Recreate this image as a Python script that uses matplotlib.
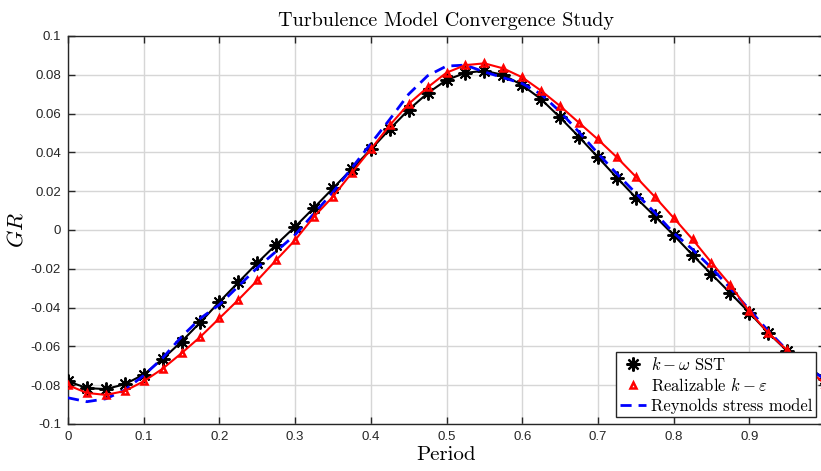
import matplotlib
matplotlib.use('Agg')
import matplotlib.pyplot as plt
from matplotlib.lines import Line2D
from matplotlib.ticker import FuncFormatter
import numpy as np

period = np.arange(41) * 0.025

gr_sst = [-0.078, -0.0815, -0.082, -0.0795, -0.0745, -0.0665, -0.0575, -0.0475,
          -0.037, -0.027, -0.017, -0.0075, 0.0017, 0.0115, 0.0215, 0.0315,
          0.0415, 0.052, 0.062, 0.0705, 0.0773, 0.081, 0.0821, 0.0799,
          0.0747, 0.0674, 0.058, 0.048, 0.0375, 0.027, 0.0167, 0.0072,
          -0.0026, -0.0129, -0.0227, -0.0326, -0.0426, -0.053, -0.0624, -0.070,
          -0.0768]

gr_rke = [-0.080, -0.084, -0.085, -0.083, -0.078, -0.0715, -0.0635, -0.055,
          -0.0455, -0.036, -0.026, -0.0155, -0.0052, 0.0069, 0.0172, 0.0295,
          0.0416, 0.054, 0.065, 0.0735, 0.0811, 0.085, 0.0859, 0.0833,
          0.0787, 0.0718, 0.0639, 0.0553, 0.0467, 0.0375, 0.0275, 0.0172,
          0.0063, -0.0048, -0.0168, -0.0284, -0.042, -0.053, -0.062, -0.071,
          -0.0794]

gr_rsm = [-0.0865, -0.0885, -0.087, -0.0825, -0.075, -0.066, -0.055, -0.0455,
          -0.0385, -0.029, -0.0195, -0.011, -0.0025, 0.0085, 0.0195, 0.032,
          0.0445, 0.057, 0.070, 0.0795, 0.0845, 0.085, 0.0815, 0.0785,
          0.0755, 0.070, 0.061, 0.0505, 0.0395, 0.029, 0.019, 0.009,
          -0.0015, -0.010, -0.0195, -0.030, -0.041, -0.052, -0.062, -0.0705,
          -0.077]

labels = [r'$k-\omega$ SST', r'Realizable $k-\varepsilon$', 'Reynolds stress model']

plt.rcParams['mathtext.fontset'] = 'cm'
plt.rcParams['axes.unicode_minus'] = False
plt.rcParams['font.family'] = ['Liberation Sans', 'DejaVu Sans']

fig = plt.figure(figsize=(8.21, 4.71), dpi=100)
ax = fig.add_axes([68 / 821, 1 - 424 / 471, 757 / 821, 388 / 471])

ax.plot(period, gr_sst, color='black', lw=1.5, marker=(8, 2, 0), ms=10, mew=1.4, zorder=3)
ax.plot(period, gr_rsm, color='#0000ff', lw=2, ls=(0, (4, 2.5)), zorder=4)
ax.plot(period, gr_rke, color='#ff0000', lw=1.5, marker='^', ms=5, mfc='none', mew=1.8, zorder=5)

ax.set_xlim(0, 1)
ax.set_ylim(-0.1, 0.1)
ax.set_xticks(np.arange(0, 1.01, 0.1))
ax.set_yticks(np.arange(-0.1, 0.101, 0.02))
fmt = FuncFormatter(lambda v, p: '%g' % round(v, 3))
ax.xaxis.set_major_formatter(fmt)
ax.yaxis.set_major_formatter(fmt)
ax.tick_params(direction='in', length=5, width=1, top=True, right=True,
               labelsize=9.5, colors='#262626', pad=5)
ax.grid(True, color='#d6d6d6', lw=1)
ax.set_axisbelow(True)
for s in ax.spines.values():
    s.set_color('#262626')
    s.set_linewidth(1)

ax.set_title('Turbulence Model Convergence Study', fontfamily='cmr10', fontsize=14.5, pad=7)
ax.set_xlabel('Period', fontfamily='cmr10', fontsize=15, labelpad=2)
ax.set_ylabel('$GR$', fontsize=16)
ax.yaxis.set_label_coords(-0.053, 0.5)

handles = [
    Line2D([], [], color='black', ls='none', marker=(8, 2, 0), ms=10, mew=1.6),
    Line2D([], [], color='#ff0000', ls='none', marker='^', ms=5, mfc='none', mew=1.8),
    Line2D([], [], color='#0000ff', lw=2, ls=(0, (4, 2.5))),
]
leg = ax.legend(handles, labels, loc='lower right', bbox_to_anchor=(0.988, 0.018),
                borderaxespad=0, fancybox=False, framealpha=1, edgecolor='#262626',
                prop={'family': 'cmr10', 'size': 12}, handlelength=1.6,
                handletextpad=0.3, labelspacing=0.25, borderpad=0.2)
leg.get_frame().set_linewidth(1)
leg.set_zorder(10)

fig.savefig('out.png', dpi=100)
